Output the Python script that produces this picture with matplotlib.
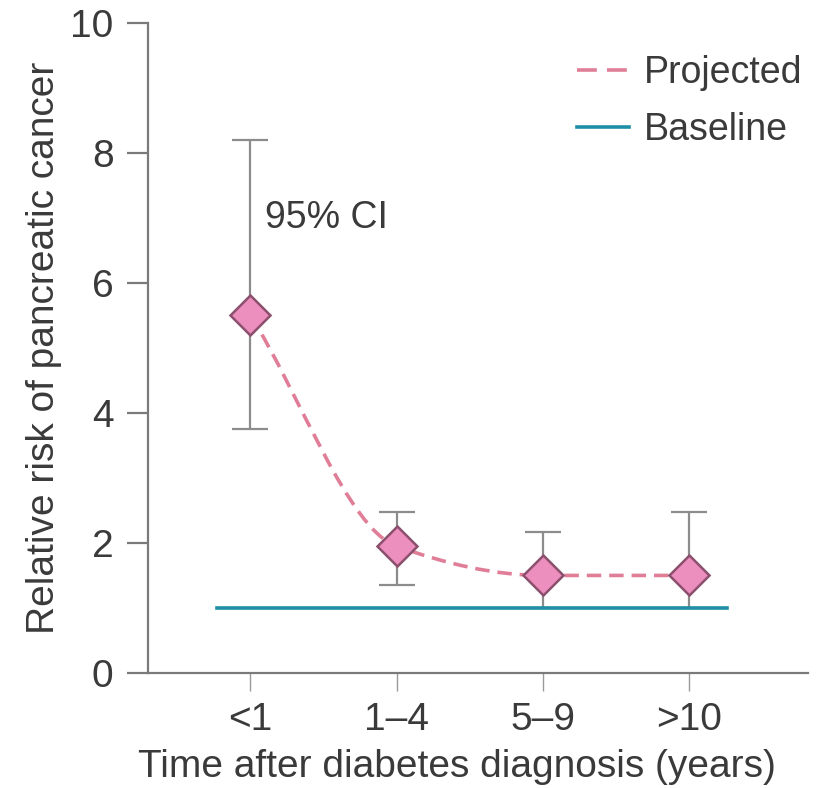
import matplotlib
matplotlib.use("Agg")
import matplotlib.pyplot as plt
from matplotlib.path import Path
from matplotlib.patches import PathPatch
from matplotlib.lines import Line2D

# data
categories = ["<1", "1\u20134", "5\u20139", ">10"]
risk = [5.5, 1.95, 1.5, 1.5]
ci_low = [3.75, 1.35, 1.0, 1.0]
ci_high = [8.2, 2.47, 2.17, 2.47]
baseline = 1.0
baseline_span = [-0.23, 3.26]

pink_line = "#e07e98"
pink_fill = "#ec8fbf"
pink_edge = "#8c4f6e"
teal = "#1e8fa6"
grey = "#8c8c8c"
text_col = "#3a3a3a"

plt.rcParams["font.family"] = ["Liberation Sans", "DejaVu Sans"]

fig = plt.figure(figsize=(8.19, 7.88), dpi=100)
ax = fig.add_axes([0.181, 0.146, 0.806, 0.825])

x = list(range(len(categories)))

# smooth dashed "projected" curve, cubic bezier through the points
slopes = [(risk[i + 1] - risk[i]) for i in range(len(risk) - 1)]
tang = [slopes[0]]
for i in range(1, len(risk) - 1):
    a, b = slopes[i - 1], slopes[i]
    tang.append(0.0 if a * b <= 0 else 2.0 / (1.0 / a + 1.0 / b))
tang.append(0.0)
verts = [(x[0], risk[0])]
codes = [Path.MOVETO]
for i in range(len(risk) - 1):
    verts += [(x[i] + 1 / 3, risk[i] + tang[i] / 3),
              (x[i + 1] - 1 / 3, risk[i + 1] - tang[i + 1] / 3),
              (x[i + 1], risk[i + 1])]
    codes += [Path.CURVE4] * 3
ax.add_patch(PathPatch(Path(verts, codes), fill=False, edgecolor=pink_line,
                       lw=2.6, linestyle=(0, (4, 2.2)), zorder=3))

# baseline
ax.plot(baseline_span, [baseline, baseline], color=teal, lw=2.6, zorder=2)

# confidence intervals + markers
yerr = [[r - l for r, l in zip(risk, ci_low)], [h - r for r, h in zip(risk, ci_high)]]
ax.errorbar(x, risk, yerr=yerr, fmt="none", ecolor=grey, elinewidth=1.6,
            capsize=13, capthick=1.6, zorder=1)
ax.plot(x, risk, linestyle="none", marker="D", markersize=20,
        markerfacecolor=pink_fill, markeredgecolor=pink_edge,
        markeredgewidth=1.8, zorder=4)

ax.text(0.1, 7.0, "95% CI", fontsize=27, color=text_col, ha="left", va="center")

ax.set_xlim(-0.7, 3.82)
ax.set_ylim(0, 10)
ax.set_xticks(x)
ax.set_xticklabels(categories)
ax.set_yticks([0, 2, 4, 6, 8, 10])

for side in ["top", "right"]:
    ax.spines[side].set_visible(False)
for side in ["left", "bottom"]:
    ax.spines[side].set_color("#7a7a7a")
    ax.spines[side].set_linewidth(1.6)

ax.tick_params(axis="y", length=15, width=1.6, color="#7a7a7a",
               labelsize=28, labelcolor=text_col, pad=10)
ax.tick_params(axis="x", length=13, width=1.0, color="#9a9a9a",
               labelsize=28, labelcolor=text_col, pad=8)

ax.set_xlabel("Time after diabetes diagnosis (years)", fontsize=28,
              color=text_col, labelpad=8)
ax.xaxis.label.set_x(0.467)
ax.set_ylabel("Relative risk of pancreatic cancer", fontsize=28,
              color=text_col, labelpad=6)

handles = [Line2D([], [], color=pink_line, lw=2.6, linestyle=(0, (5.5, 2.8))),
           Line2D([], [], color=teal, lw=2.6)]
ax.legend(handles, ["Projected", "Baseline"], loc="upper right",
          bbox_to_anchor=(1.014, 0.973), borderaxespad=0, frameon=False,
          fontsize=27, handlelength=1.4, handletextpad=0.4, labelspacing=0.55,
          labelcolor=text_col)

fig.savefig("out.png", dpi=100)
